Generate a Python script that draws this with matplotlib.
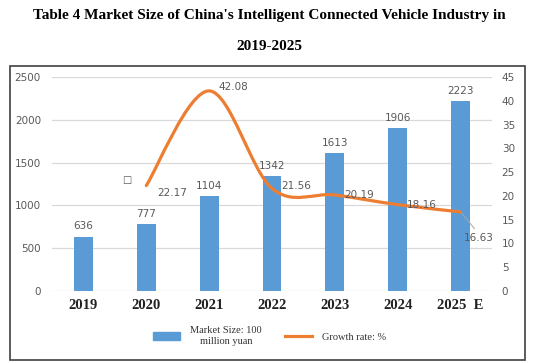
import matplotlib.pyplot as plt
from matplotlib.path import Path
from matplotlib.patches import PathPatch, Rectangle
from matplotlib.lines import Line2D

years = ['2019', '2020', '2021', '2022', '2023', '2024', '2025  E']
market_size = [636, 777, 1104, 1342, 1613, 1906, 2223]
growth_years = [1, 2, 3, 4, 5, 6]
growth_rate = [22.17, 42.08, 21.56, 20.19, 18.16, 16.63]

BLUE = '#5B9BD5'
ORANGE = '#ED7D31'
GRAY = '#595959'

fig = plt.figure(figsize=(5.39, 3.63), dpi=100)
fig.patch.set_facecolor('white')

# outer frame of the chart
fig.patches.append(Rectangle((10 / 539, 3 / 363), 515 / 539, 294 / 363,
                             transform=fig.transFigure, fill=False,
                             edgecolor='#404040', linewidth=1.2))

fig.text(0.5, 1 - 16 / 363, "Table 4 Market Size of China's Intelligent Connected Vehicle Industry in",
         ha='center', va='center', fontsize=11, fontweight='bold', family='Liberation Serif')
fig.text(0.5, 1 - 46 / 363, "2019-2025",
         ha='center', va='center', fontsize=11, fontweight='bold', family='Liberation Serif')

ax = fig.add_axes([52 / 539, 1 - 291 / 363, 440 / 539, 214 / 363])
x = list(range(len(years)))
ax.bar(x, market_size, width=0.3, color=BLUE, zorder=2)
for xi, v in zip(x, market_size):
    ax.text(xi, v + 60, str(v), ha='center', va='bottom', fontsize=7.5, color=GRAY)

ax.set_xlim(-0.5, 6.5)
ax.set_ylim(0, 2500)
ax.set_yticks(range(0, 2501, 500))
ax.grid(axis='y', color='#D9D9D9', linewidth=0.9, zorder=0)
ax.set_axisbelow(True)
for s in ax.spines.values():
    s.set_visible(False)
ax.tick_params(length=0)
ax.tick_params(axis='y', labelsize=7.5, labelcolor=GRAY, pad=8)
ax.set_xticks(x)
ax.set_xticklabels(years, fontsize=10.5, fontweight='bold', family='Liberation Serif', color='#222222')
ax.tick_params(axis='x', pad=6)

ax2 = ax.twinx()
ax2.set_ylim(0, 45)
ax2.set_yticks(range(0, 46, 5))
for s in ax2.spines.values():
    s.set_visible(False)
ax2.tick_params(length=0, labelsize=7.5, labelcolor=GRAY, pad=7)

# smoothed line (Catmull-Rom as Bezier segments)
pts = list(zip(growth_years, growth_rate))
verts = [pts[0]]
codes = [Path.MOVETO]
for i in range(len(pts) - 1):
    p0 = pts[i - 1] if i > 0 else pts[i]
    p1 = pts[i]
    p2 = pts[i + 1]
    p3 = pts[i + 2] if i + 2 < len(pts) else pts[i + 1]
    c1 = (p1[0] + (p2[0] - p0[0]) / 6, p1[1] + (p2[1] - p0[1]) / 6)
    c2 = (p2[0] - (p3[0] - p1[0]) / 6, p2[1] - (p3[1] - p1[1]) / 6)
    verts += [c1, c2, p2]
    codes += [Path.CURVE4] * 3
ax2.add_patch(PathPatch(Path(verts, codes), fill=False, edgecolor=ORANGE,
                        linewidth=2.3, capstyle='round', zorder=3))

offsets = [(0.18, -1.5), (0.15, 0.8), (0.15, 0.5), (0.15, 0.0), (0.15, 0.0), (0.05, -5.5)]
for (gx, gv), (dx, dy) in zip(pts, offsets):
    ax2.text(gx + dx, gv + dy, '%.2f' % gv, ha='left', va='center', fontsize=7.5, color=GRAY, zorder=4)
ax2.plot([growth_years[-1], growth_years[-1] + 0.22], [growth_rate[-1], growth_rate[-1] - 3.5],
         color='#A6A6A6', linewidth=0.7)

ax.text(0.17, 0.52, '\u25a1', transform=ax.transAxes, fontsize=7, color=GRAY, ha='center', va='center')

handles = [Rectangle((0, 0), 1, 1, color=BLUE),
           Line2D([0], [0], color=ORANGE, linewidth=2.3)]
leg = fig.legend(handles, ['Market Size: 100\nmillion yuan', 'Growth rate: %'],
                 loc='center', bbox_to_anchor=(0.5, 1 - 336 / 363), ncol=2, frameon=False,
                 prop={'family': 'Liberation Serif', 'size': 7.5}, handlelength=2.6,
                 columnspacing=2.2, handletextpad=1.0)
for t in leg.get_texts():
    t.set_multialignment('center')
    t.set_color('#333333')

fig.savefig('out.png', dpi=100, facecolor='white')
